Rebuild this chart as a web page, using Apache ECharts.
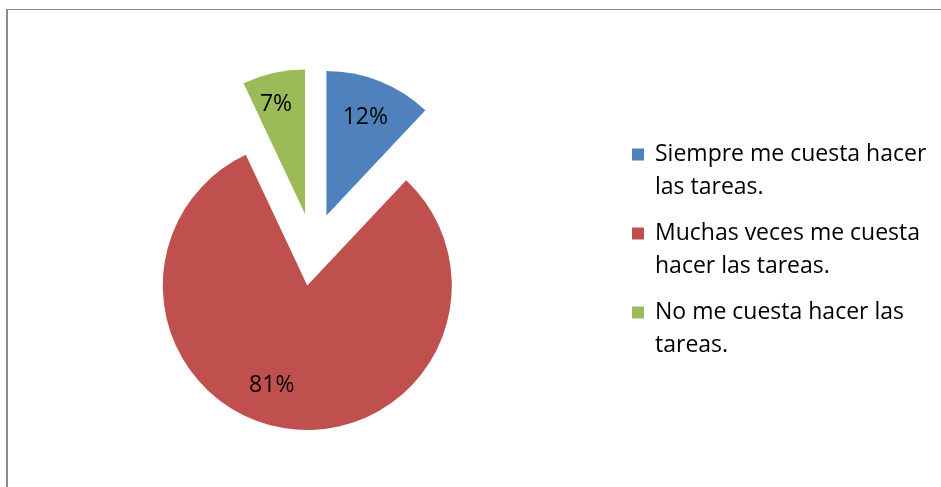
<!DOCTYPE html>
<html>
<head>
<meta charset="utf-8">
<script src="https://cdn.jsdelivr.net/npm/echarts@6/dist/echarts.min.js"></script>
<style>
  html, body { margin: 0; padding: 0; background: #fff; }
  #chart { width: 941px; height: 487px; }
</style>
</head>
<body>
<div id="chart"></div>
<script>
// Survey answers and their shares (percent)
const categories = [
  'Siempre me cuesta hacer las tareas.',
  'Muchas veces me cuesta hacer las tareas.',
  'No me cuesta hacer las tareas.'
];
const legendLines = [
  ['Siempre me cuesta hacer', 'las tareas.'],
  ['Muchas veces me cuesta', 'hacer las tareas.'],
  ['No me cuesta hacer las', 'tareas.']
];
const shares = [12, 81, 7];
const colors = ['#4F81BD', '#C0504D', '#9BBB59'];
// padding that nudges each percentage label inside its slice
const labelPadding = [[0, 0, 0, 0], [0, 38, 10, 0], [0, 12, 12, 0]];

const FONT = '"Open Sans", Lato, sans-serif';
const CENTER = [313, 249.5];
const R = 144.5;
const EXPLODE = 36.5;

function pieData(withColor) {
  return categories.map((name, i) => ({
    name: name,
    value: shares[i],
    selected: true,
    itemStyle: withColor ? { color: colors[i] } : { color: 'rgba(0,0,0,0)' },
    label: withColor ? undefined : { padding: labelPadding[i] }
  }));
}

const chart = echarts.init(document.getElementById('chart'), null, { renderer: 'canvas' });

chart.setOption({
  animation: false,
  backgroundColor: '#ffffff',
  color: colors,
  graphic: [
    { type: 'line', shape: { x1: 7, y1: 9.5, x2: 941, y2: 9.5 }, style: { stroke: '#8c8c8c', lineWidth: 1 }, silent: true },
    { type: 'line', shape: { x1: 7, y1: 9, x2: 7, y2: 487 }, style: { stroke: '#8c8c8c', lineWidth: 2 }, silent: true }
  ],
  legend: {
    orient: 'vertical',
    left: 627,
    top: 100,
    itemWidth: 12,
    itemHeight: 12,
    itemGap: -20,
    icon: 'rect',
    selectedMode: false,
    data: categories,
    // leading blank line keeps the first text line level with the swatch
    formatter: name => '\n' + legendLines[categories.indexOf(name)].join('\n'),
    textStyle: {
      fontFamily: FONT,
      fontSize: 23,
      lineHeight: 33,
      color: '#000',
      padding: [0, 0, 0, 6]
    }
  },
  series: [
    {
      type: 'pie',
      center: CENTER,
      radius: [0, R],
      startAngle: 90,
      clockwise: true,
      selectedMode: 'multiple',
      selectedOffset: EXPLODE,
      silent: true,
      emphasis: { disabled: true },
      label: { show: false },
      labelLine: { show: false },
      data: pieData(true)
    },
    {
      // transparent ring that only carries the percentage labels
      type: 'pie',
      center: CENTER,
      radius: [61, R],
      startAngle: 90,
      clockwise: true,
      selectedMode: 'multiple',
      selectedOffset: EXPLODE,
      silent: true,
      emphasis: { disabled: true },
      legendHoverLink: false,
      label: {
        show: true,
        position: 'inside',
        formatter: p => '{v|' + p.value + '%}',
        rich: { v: { fontFamily: FONT, fontSize: 23, color: '#000' } },
        fontFamily: FONT,
        fontSize: 23,
        color: '#000'
      },
      labelLine: { show: false },
      data: pieData(false)
    }
  ]
});
</script>
</body>
</html>
